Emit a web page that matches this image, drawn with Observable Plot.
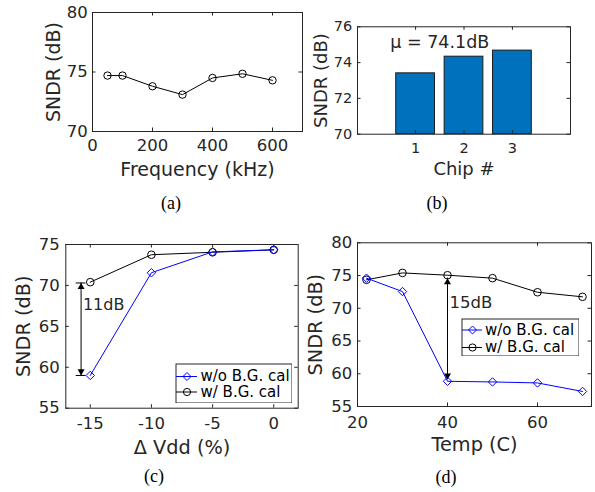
<!DOCTYPE html>
<html><head><meta charset="utf-8">
<script src="https://cdn.jsdelivr.net/npm/d3@7"></script>
<script src="https://cdn.jsdelivr.net/npm/@observablehq/plot@0.6"></script>
<style>
body{margin:0;background:#fff;}
#root{position:relative;width:595px;height:492px;overflow:hidden;font-family:"DejaVu Sans",sans-serif;}
.panel{position:absolute;}
.panel svg{max-width:none;display:block;}
.cap{position:absolute;font-family:"Liberation Serif","Times New Roman",serif;font-size:18px;color:#000;transform:translate(-50%,-50%);line-height:1;}
</style></head><body><div id="root"></div>
<script>
// ---------- data ----------
// (a) SNDR vs input frequency
const freqKHz = [50, 100, 200, 300, 400, 500, 600];
const sndrFreq = [74.7, 74.7, 73.8, 73.1, 74.5, 74.85, 74.3];
// (b) SNDR per chip
const chips = [1, 2, 3];
const sndrChip = [73.4, 74.33, 74.67];
const chipMeanLabel = "μ = 74.1dB";
const chipMeanPos = [1.5, 75.12];
// (c) SNDR vs supply variation
const vddPct = [-15, -10, -5, 0];
const sndrVddNoCal = [59.0, 71.55, 74.1, 74.35];
const sndrVddCal = [70.4, 73.75, 74.05, 74.35];
const vddArrow = {x: -15.75, yTop: 70.3, yBottom: 59.0, capHalf: 0.4};
const vddGapLabel = "11dB";
const vddGapPos = [-15.6, 67.6];
// (d) SNDR vs temperature
const tempC = [22, 30, 40, 50, 60, 70];
const sndrTempNoCal = [74.6, 72.55, 58.85, 58.75, 58.6, 57.3];
const sndrTempCal = [74.35, 75.4, 75.05, 74.6, 72.45, 71.75];
const tempArrow = {x: 40, yTop: 74.6, yBottom: 59.1};
const tempGapLabel = "15dB";
const tempGapPos = [40.45, 70.9];
// labels / ticks
const seriesNames = ["w/o B.G. cal", "w/ B.G. cal"];
const yLabel = "SNDR (dB)";
const xLabels = ["Frequency (kHz)", "Chip #", "Δ Vdd (%)", "Temp (C)"];
const captions = ["(a)", "(b)", "(c)", "(d)"];
const aXTicks = [0, 200, 400, 600], aYTicks = [70, 75, 80];
const bXTicks = [1, 2, 3], bYTicks = [70, 72, 74, 76];
const cXTicks = [-15, -10, -5, 0], cYTicks = [55, 60, 65, 70, 75];
const dXTicks = [20, 40, 60], dYTicks = [55, 60, 65, 70, 75, 80];

// ---------- style ----------
const ink = "#262626";
const FONT = "DejaVu Sans, sans-serif";
const blue = "#0000ff";
const barBlue = "#0072bd";
const root = document.getElementById("root");

function place(el, left, top) {
  const d = document.createElement("div");
  d.className = "panel";
  d.style.left = left + "px";
  d.style.top = top + "px";
  d.appendChild(el);
  root.appendChild(d);
}

function panel(o) {
  const fh = o.height - o.mt - o.mb, fw = o.width - o.ml - o.mr;
  const tl = 3.5;
  const yMid = (o.yDomain[0] + o.yDomain[1]) / 2;
  const p = Plot.plot({
    width: o.width, height: o.height,
    marginLeft: o.ml, marginRight: o.mr, marginTop: o.mt, marginBottom: o.mb,
    style: {fontFamily: FONT, background: "transparent", color: ink, overflow: "visible"},
    x: {domain: o.xDomain},
    y: {domain: o.yDomain},
    marks: [
      ...o.marks,
      Plot.tickX(o.xTicks, {x: d => d, insetTop: fh - tl, stroke: ink}),
      Plot.tickX(o.xTicks, {x: d => d, insetBottom: fh - tl, stroke: ink}),
      Plot.tickY(o.yTicks, {y: d => d, insetRight: fw - tl, stroke: ink}),
      Plot.tickY(o.yTicks, {y: d => d, insetLeft: fw - tl, stroke: ink}),
      Plot.frame({stroke: ink}),
      Plot.axisX(o.xTicks, {tickSize: 0, tickPadding: o.xPad, fontSize: o.tickFont, label: null, tickFormat: d => String(d), fill: ink}),
      Plot.axisY(o.yTicks, {tickSize: 0, tickPadding: o.yPad, fontSize: o.tickFont, label: null, tickFormat: d => String(d), fill: ink}),
      Plot.text([o.xLabel], {text: d => d, frameAnchor: "bottom", dy: o.xLabelDy, fontSize: o.labelFont, fill: ink, lineAnchor: "middle", textAnchor: "middle"}),
      Plot.text([yLabel], {text: d => d, y: () => yMid, frameAnchor: "left", dx: o.yLabelDx, rotate: -90, fontSize: o.labelFont, fill: ink, lineAnchor: "middle", textAnchor: "middle"})
    ]
  });
  place(p, o.left, o.top);
}

function legendBox(o) {
  const rows = seriesNames.map((name, i) => ({name, y: o.rowY[i], color: [blue, "black"][i], symbol: ["diamond2", "circle"][i]}));
  const marks = [Plot.frame({fill: "white", stroke: ink, inset: 0.5})];
  for (const r of rows) {
    marks.push(Plot.ruleY([r.y], {y: d => d, x1: o.sx1, x2: o.sx2, stroke: r.color, strokeWidth: 1}));
    marks.push(Plot.dot([r.y], {y: d => d, x: o.mx, symbol: r.symbol, stroke: r.color, fill: "none", r: 3.6, strokeWidth: 1}));
    marks.push(Plot.text([r.name], {text: d => d, x: o.tx, y: r.y, textAnchor: "start", fontSize: 15, fill: "#000"}));
  }
  const p = Plot.plot({
    width: o.width, height: o.height, margin: 0,
    style: {fontFamily: FONT, background: "transparent"},
    x: {domain: [0, o.width], range: [0, o.width]},
    y: {domain: [0, o.height], range: [0, o.height]},
    marks
  });
  place(p, o.left, o.top);
}

// double-headed arrow with filled heads, drawn in data coordinates
function doubleArrow(a) {
  return [
    Plot.ruleX([a], {x: "x", y1: "yBottom", y2: "yTop", stroke: "black", strokeWidth: 1}),
    Plot.dot([a], {x: "x", y: "yTop", symbol: "triangle", r: 2.6, fill: "black", stroke: "none", dy: 4.1}),
    Plot.dot([a], {x: "x", y: "yBottom", symbol: "triangle", r: 2.6, fill: "black", stroke: "none", rotate: 180, dy: -4.1})
  ];
}

const pts = (xs, ys) => xs.map((x, i) => ({x, y: ys[i]}));

// (a)
const aData = pts(freqKHz, sndrFreq);
panel({
  left: 0, top: 0, width: 305, height: 190, ml: 92, mr: 3, mt: 12, mb: 59,
  xDomain: [0, 700], yDomain: [70, 80], xTicks: aXTicks, yTicks: aYTicks,
  tickFont: 16.5, labelFont: 19, xPad: 8, yPad: 4.7, xLabel: xLabels[0], xLabelDy: 38, yLabelDx: -38.7,
  marks: [
    Plot.line(aData, {x: "x", y: "y", stroke: "black", strokeWidth: 1}),
    Plot.dot(aData, {x: "x", y: "y", symbol: "circle", stroke: "black", fill: "none", r: 3.7, strokeWidth: 1})
  ]
});

// (b)
const bData = pts(chips, sndrChip);
panel({
  left: 305, top: 0, width: 290, height: 190, ml: 52, mr: 25, mt: 26.3, mb: 56.3,
  xDomain: [-0.2, 4.2], yDomain: [70, 76], xTicks: bXTicks, yTicks: bYTicks,
  tickFont: 14.5, labelFont: 18, xPad: 9, yPad: 5.3, xLabel: xLabels[1], xLabelDy: 35.3, yLabelDx: -36.5,
  marks: [
    Plot.rect(bData, {x1: d => d.x - 0.4, x2: d => d.x + 0.4, y1: () => 70, y2: "y", fill: barBlue, stroke: "#1a1a1a", strokeWidth: 1}),
    Plot.text([chipMeanLabel], {text: d => d, x: chipMeanPos[0], y: chipMeanPos[1], fontSize: 17.5, fill: ink})
  ]
});

// (c)
const cNo = pts(vddPct, sndrVddNoCal), cCal = pts(vddPct, sndrVddCal);
panel({
  left: 0, top: 225, width: 305, height: 230, ml: 65.3, mr: 7.3, mt: 19, mb: 47.3,
  xDomain: [-17, 2], yDomain: [55, 75], xTicks: cXTicks, yTicks: cYTicks,
  tickFont: 16.5, labelFont: 19.3, xPad: 9, yPad: 6, xLabel: xLabels[2], xLabelDy: 40, yLabelDx: -42,
  marks: [
    Plot.line(cCal, {x: "x", y: "y", stroke: "black", strokeWidth: 1}),
    Plot.line(cNo, {x: "x", y: "y", stroke: blue, strokeWidth: 1}),
    Plot.dot(cCal, {x: "x", y: "y", symbol: "circle", stroke: "black", fill: "none", r: 3.8, strokeWidth: 1}),
    Plot.dot(cNo, {x: "x", y: "y", symbol: "diamond2", stroke: blue, fill: "none", r: 3.8, strokeWidth: 1}),
    Plot.ruleY([vddArrow.yTop, vddArrow.yBottom], {y: d => d, x1: vddArrow.x - vddArrow.capHalf, x2: vddArrow.x + vddArrow.capHalf, stroke: "black"}),
    ...doubleArrow(vddArrow),
    Plot.text([vddGapLabel], {text: d => d, x: vddGapPos[0], y: vddGapPos[1], textAnchor: "start", fontSize: 16, fill: ink})
  ]
});
legendBox({left: 175, top: 363, width: 117, height: 40, rowY: [13, 28.5], sx1: 1, sx2: 22, mx: 11.5, tx: 25});

// (d)
const dNo = pts(tempC, sndrTempNoCal), dCal = pts(tempC, sndrTempCal);
panel({
  left: 305, top: 225, width: 290, height: 230, ml: 52, mr: 4, mt: 17.3, mb: 49,
  xDomain: [20, 72], yDomain: [55, 80], xTicks: dXTicks, yTicks: dYTicks,
  tickFont: 16.5, labelFont: 19.3, xPad: 10, yPad: 5.3, xLabel: xLabels[3], xLabelDy: 38.7, yLabelDx: -42,
  marks: [
    Plot.line(dCal, {x: "x", y: "y", stroke: "black", strokeWidth: 1}),
    Plot.line(dNo, {x: "x", y: "y", stroke: blue, strokeWidth: 1}),
    Plot.dot(dCal, {x: "x", y: "y", symbol: "circle", stroke: "black", fill: "none", r: 3.8, strokeWidth: 1}),
    Plot.dot(dNo, {x: "x", y: "y", symbol: "diamond2", stroke: blue, fill: "none", r: 3.8, strokeWidth: 1}),
    ...doubleArrow(tempArrow),
    Plot.text([tempGapLabel], {text: d => d, x: tempGapPos[0], y: tempGapPos[1], textAnchor: "start", fontSize: 16.5, fill: ink})
  ]
});
legendBox({left: 461, top: 318, width: 118, height: 38, rowY: [11.5, 29], sx1: 1, sx2: 21, mx: 11, tx: 23.5});

// captions
const capPos = [[171, 203], [437, 203], [154, 476], [446, 477]];
captions.forEach((c, i) => {
  const d = document.createElement("div");
  d.className = "cap";
  d.textContent = c;
  d.style.left = capPos[i][0] + "px";
  d.style.top = capPos[i][1] + "px";
  root.appendChild(d);
});
</script></body></html>
